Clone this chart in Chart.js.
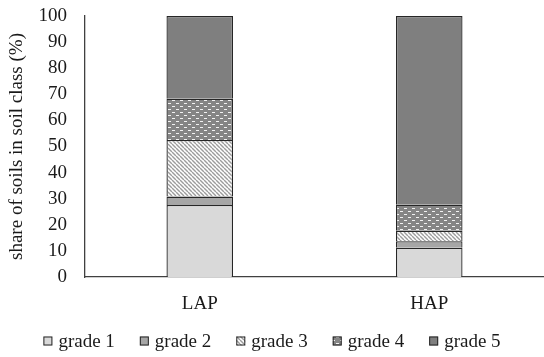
<!DOCTYPE html>
<html>
<head>
<meta charset="utf-8">
<script src="https://cdn.jsdelivr.net/npm/chart.js@4"></script>
<style>
  html, body { margin: 0; padding: 0; background: #fff; }
  canvas { display: block; }
</style>
</head>
<body>
<canvas id="soilChart" width="544" height="357"></canvas>
<script>
// dados (%)
const categories = ['LAP', 'HAP'];
const gradeNames = ['grade 1', 'grade 2', 'grade 3', 'grade 4', 'grade 5'];
const grade1 = [27.6, 11.2];
const grade2 = [3.2, 2.5];
const grade3 = [21.7, 4.0];
const grade4 = [15.8, 10.0];
const grade5 = [31.7, 72.3];
const yTicks = [0, 10, 20, 30, 40, 50, 60, 70, 80, 90, 100];

const FONT = '"Liberation Serif", "Times New Roman", serif';

function stripePattern() {
    const c = document.createElement('canvas');
    c.width = 4; c.height = 4;
    const g = c.getContext('2d');
    g.fillStyle = '#ffffff';
    g.fillRect(0, 0, 4, 4);
    g.strokeStyle = '#9c9c9c';
    g.lineWidth = 1.4;
    [-4, 0, 4].forEach(o => {
        g.beginPath();
        g.moveTo(o, 0);
        g.lineTo(o + 4, 4);
        g.stroke();
    });
    return g.createPattern(c, 'repeat');
}

function dotPattern() {
    const c = document.createElement('canvas');
    c.width = 8; c.height = 6;
    const g = c.getContext('2d');
    g.fillStyle = '#858585';
    g.fillRect(0, 0, 8, 6);
    g.fillStyle = '#f2f2f2';
    g.fillRect(0, 1, 3, 1);
    g.fillRect(4, 4, 3, 1);
    return g.createPattern(c, 'repeat');
}

const fills = ['#d9d9d9', '#a6a6a6', stripePattern(), dotPattern(), '#7f7f7f'];
const seriesValues = [grade1, grade2, grade3, grade4, grade5];

const datasets = gradeNames.map((name, i) => ({
    label: name,
    data: seriesValues[i],
    backgroundColor: fills[i],
    borderColor: '#262626',
    borderWidth: 1.3,
    barPercentage: 0.29,
    categoryPercentage: 1.0
}));

// legenda desenhada à mão (espaçamento do original)
const legendPlugin = {
    id: 'bottomLegend',
    afterDraw(chart) {
        const ctx = chart.ctx;
        ctx.save();
        ctx.font = '19px ' + FONT;
        const box = 9, gap = 6, spacing = 25;
        const widths = chart.data.datasets.map(d => box + gap + ctx.measureText(d.label).width);
        const total = widths.reduce((a, b) => a + b, 0) + spacing * (widths.length - 1);
        let x = (chart.width - total) / 2;
        const cy = 341;
        chart.data.datasets.forEach((d, i) => {
            ctx.fillStyle = d.backgroundColor;
            ctx.fillRect(x, cy - box / 2, box, box);
            ctx.strokeStyle = '#262626';
            ctx.lineWidth = 1;
            ctx.strokeRect(x + 0.5, cy - box / 2 + 0.5, box - 1, box - 1);
            ctx.fillStyle = '#1a1a1a';
            ctx.textBaseline = 'middle';
            ctx.textAlign = 'left';
            ctx.fillText(d.label, x + box + gap, cy + 1);
            x += widths[i] + spacing;
        });
        ctx.restore();
    }
};

const ctx = document.getElementById('soilChart').getContext('2d');
new Chart(ctx, {
    type: 'bar',
    data: { labels: categories, datasets: datasets },
    options: {
        responsive: false,
        animation: false,
        devicePixelRatio: 1,
        layout: { padding: { top: 16, left: 0, right: 0, bottom: 0 } },
        plugins: {
            legend: { display: false },
            tooltip: { enabled: false }
        },
        scales: {
            x: {
                stacked: true,
                grid: { display: false, drawTicks: false },
                border: { display: true, color: '#404040', width: 1.3 },
                ticks: {
                    color: '#1a1a1a',
                    padding: 16,
                    font: { family: FONT, size: 19 }
                },
                afterFit: s => { s.height = 80; s.paddingLeft = 0; s.paddingRight = 0; }
            },
            y: {
                stacked: true,
                min: 0,
                max: 100,
                afterBuildTicks: s => { s.ticks = yTicks.map(v => ({ value: v })); },
                grid: { display: false, drawTicks: false },
                border: { display: true, color: '#404040', width: 1.3 },
                ticks: {
                    color: '#1a1a1a',
                    padding: 18,
                    autoSkip: false,
                    font: { family: FONT, size: 19 }
                },
                title: {
                    display: true,
                    text: 'share of soils in soil class (%)',
                    color: '#1a1a1a',
                    padding: { top: 6, bottom: 0 },
                    font: { family: FONT, size: 19 }
                },
                afterFit: s => { s.width = 85; s.paddingTop = 0; s.paddingBottom = 0; }
            }
        }
    },
    plugins: [legendPlugin]
});
</script>
</body>
</html>
